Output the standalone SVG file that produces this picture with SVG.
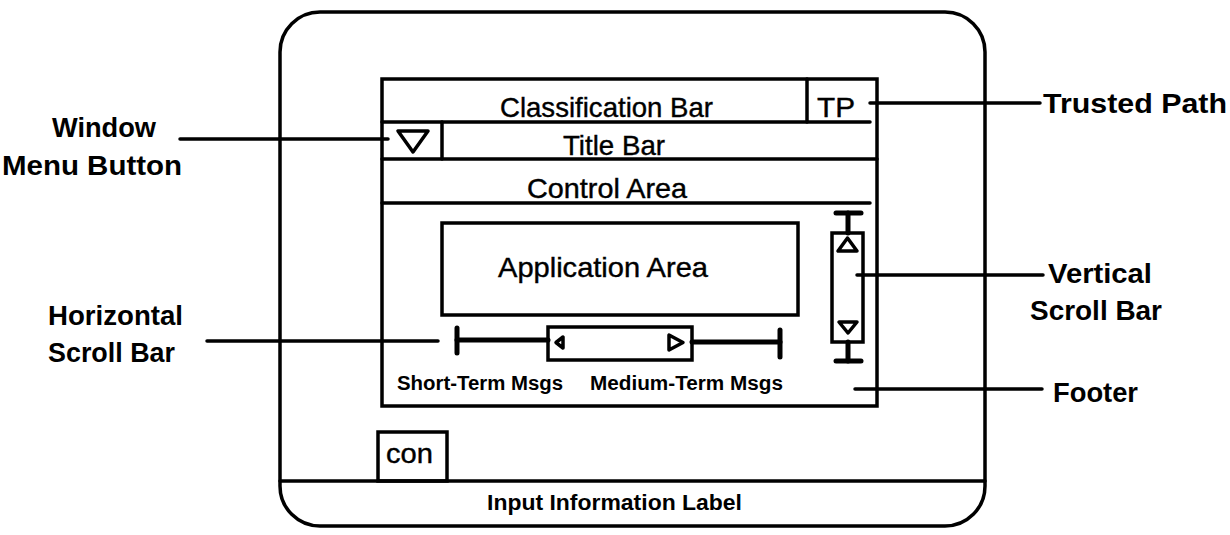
<svg xmlns="http://www.w3.org/2000/svg" width="1230" height="535" viewBox="0 0 1230 535">
<style>
.ln{stroke:#000;stroke-width:3.5;fill:none;stroke-linecap:round}
.thk{stroke:#000;stroke-width:5;fill:none;stroke-linecap:round}
.reg{font-family:"Liberation Sans",Arial,sans-serif;font-size:28px;fill:#000;stroke:#000;stroke-width:0.4}
.bld{font-family:"Liberation Sans",Arial,sans-serif;font-size:28px;font-weight:bold;fill:#000}
.sm{font-family:"Liberation Sans",Arial,sans-serif;font-size:20px;font-weight:bold;fill:#000}
.tri{stroke:#000;stroke-width:3.5;fill:#fff;stroke-linejoin:round}
</style>
<rect width="1230" height="535" fill="#fff"/>
<g id="screen">
<rect class="ln" x="280" y="12" width="705" height="514" rx="40" ry="40"/>
<line class="ln" x1="280" y1="481" x2="985" y2="481"/>
<text class="bld" x="487" y="510" style="font-size:22px" textLength="255" lengthAdjust="spacingAndGlyphs">Input Information Label</text>
</g>
<g id="icon-con">
<rect class="ln" x="378" y="432" width="69" height="49" fill="#fff"/>
<text class="reg" x="386" y="463" textLength="47" lengthAdjust="spacingAndGlyphs">con</text>
</g>
<g id="window">
<rect class="ln" x="382" y="79" width="495" height="327"/>
<line class="ln" x1="382" y1="122" x2="870" y2="122"/>
<line class="ln" x1="807" y1="79" x2="807" y2="122"/>
<line class="ln" x1="442" y1="122" x2="442" y2="159"/>
<line class="ln" x1="382" y1="159" x2="877" y2="159"/>
<line class="ln" x1="382" y1="203" x2="870" y2="203"/>
</g>
<g id="classification-bar">
<text class="reg" x="500" y="117" textLength="213" lengthAdjust="spacingAndGlyphs">Classification Bar</text>
</g>
<g id="trusted-path-button">
<text class="reg" x="817" y="117" textLength="38" lengthAdjust="spacingAndGlyphs">TP</text>
</g>
<g id="window-menu-button">
<polygon class="tri" points="398,131 428,131 413,152"/>
</g>
<g id="title-bar">
<text class="reg" x="563" y="155" textLength="102" lengthAdjust="spacingAndGlyphs">Title Bar</text>
</g>
<g id="control-area">
<text class="reg" x="527" y="198" textLength="160" lengthAdjust="spacingAndGlyphs">Control Area</text>
</g>
<g id="application-area">
<rect class="ln" x="442" y="223" width="356" height="92"/>
<text class="reg" x="498" y="277" textLength="210" lengthAdjust="spacingAndGlyphs">Application Area</text>
</g>
<g id="horizontal-scroll-bar">
<line class="thk" x1="457" y1="328" x2="457" y2="353"/>
<line class="thk" x1="457" y1="340" x2="548" y2="340"/>
<rect class="ln" x="548" y="327" width="144" height="33"/>
<line class="thk" x1="692" y1="342" x2="780" y2="342"/>
<line class="thk" x1="780" y1="330" x2="780" y2="357"/>
<polygon class="tri" points="563,337 563,348 556,342.5"/>
<polygon class="tri" points="669,335 669,350 683,342.5"/>
</g>
<g id="vertical-scroll-bar">
<line class="thk" x1="836" y1="213" x2="861" y2="213"/>
<line class="thk" x1="848" y1="213" x2="848" y2="233"/>
<rect class="ln" x="832" y="233" width="31" height="109"/>
<polygon class="tri" points="847.5,238 838,251 857,251"/>
<polygon class="tri" points="839,322 857,322 848,333"/>
<line class="thk" x1="848" y1="342" x2="848" y2="361"/>
<line class="thk" x1="836" y1="361" x2="861" y2="361"/>
</g>
<g id="messages">
<text class="sm" x="397" y="390" textLength="166" lengthAdjust="spacingAndGlyphs">Short-Term Msgs</text>
<text class="sm" x="590" y="390" textLength="193" lengthAdjust="spacingAndGlyphs">Medium-Term Msgs</text>
</g>
<g id="connectors">
<line class="ln" x1="180" y1="139" x2="388" y2="139"/>
<line class="ln" x1="207" y1="341" x2="438" y2="341"/>
<line class="ln" x1="870" y1="103" x2="1040" y2="103"/>
<line class="ln" x1="857" y1="275" x2="1043" y2="275"/>
<line class="ln" x1="855" y1="389" x2="1042" y2="389"/>
</g>
<g id="label-window-menu-button">
<text class="bld" x="52" y="137" textLength="104" lengthAdjust="spacingAndGlyphs">Window</text>
<text class="bld" x="2" y="175" textLength="180" lengthAdjust="spacingAndGlyphs">Menu Button</text>
</g>
<g id="label-horizontal-scroll-bar">
<text class="bld" x="48" y="325" textLength="135" lengthAdjust="spacingAndGlyphs">Horizontal</text>
<text class="bld" x="48" y="362" textLength="127" lengthAdjust="spacingAndGlyphs">Scroll Bar</text>
</g>
<g id="label-trusted-path">
<text class="bld" x="1043" y="113" textLength="184" lengthAdjust="spacingAndGlyphs">Trusted Path</text>
</g>
<g id="label-vertical-scroll-bar">
<text class="bld" x="1048" y="283" textLength="104" lengthAdjust="spacingAndGlyphs">Vertical</text>
<text class="bld" x="1030" y="320" textLength="132" lengthAdjust="spacingAndGlyphs">Scroll Bar</text>
</g>
<g id="label-footer">
<text class="bld" x="1053" y="402" textLength="85" lengthAdjust="spacingAndGlyphs">Footer</text>
</g>
</svg>
